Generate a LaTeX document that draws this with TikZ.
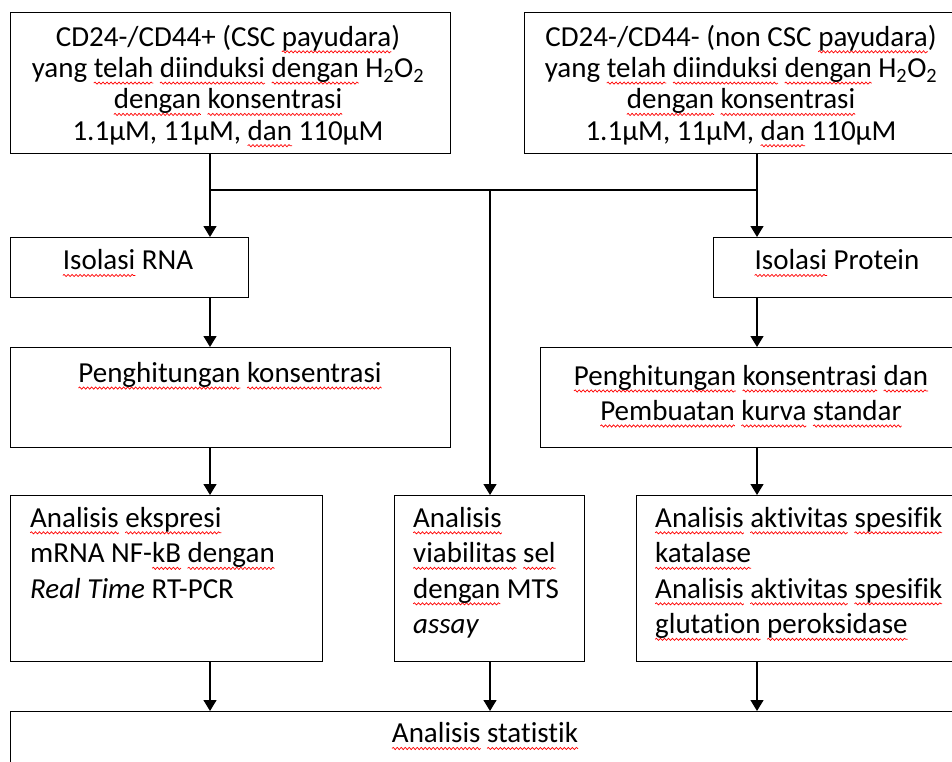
\documentclass[tikz,border=0pt]{standalone}
\usepackage{fontspec}
\setmainfont[Ligatures=NoCommon]{Carlito}
\usetikzlibrary{arrows.meta,decorations.pathmorphing}
\newlength\sqw
\newcommand\sq[1]{\settowidth\sqw{#1}\rlap{\tikz[overlay,baseline=0pt,x=1pt,y=1pt]\draw[red,line width=0.7pt,decorate,decoration={snake,segment length=4pt,amplitude=1.1pt}] (0pt,-5.5pt) -- (\sqw,-5.5pt);}#1}
\begin{document}
\begin{tikzpicture}[x=1pt,y=-1pt,
  box/.style={draw=black, line width=1.3pt, inner sep=0pt, anchor=north west},
  ln/.style={line width=1.3pt},
  arr/.style={line width=1.3pt, -{Triangle[width=13pt,length=11pt]}},
  txt/.style={inner sep=0pt, font=\fontsize{29}{31.3}\selectfont, align=center},
  txtl/.style={inner sep=0pt, font=\fontsize{29}{35.5}\selectfont, align=left, anchor=north west}]
\useasboundingbox (0,0) rectangle (952,762);
\clip (0,0) rectangle (952,762);

% boxes
\node[box, minimum width=440pt, minimum height=141pt] (topL) at (10,12) {};
\node[box, minimum width=434pt, minimum height=141pt] (topR) at (524,12) {};
\node[box, minimum width=238pt, minimum height=60pt] (rna) at (10,237) {};
\node[box, minimum width=440pt, minimum height=100pt] (konL) at (10,347) {};
\node[box, minimum width=245pt, minimum height=60pt] (prot) at (713,237) {};
\node[box, minimum width=418pt, minimum height=100pt] (konR) at (540,347) {};
\node[box, minimum width=312pt, minimum height=166pt] (ekspr) at (10,495) {};
\node[box, minimum width=190pt, minimum height=166pt] (viab) at (394,495) {};
\node[box, minimum width=322pt, minimum height=166pt] (enz) at (636,495) {};
\node[box, minimum width=948pt, minimum height=60pt] (stat) at (10,711) {};

% texts
\node[txt] (tTL) at (228,85) {CD24-/CD44+ (CSC \sq{payudara})\\
  yang \sq{telah} \sq{diinduksi} \sq{dengan} H\textsubscript{2}O\textsubscript{2}\\
  \sq{dengan} \sq{konsentrasi}\\
  1.1µM, 11µM, \sq{dan} 110µM};
\node[txt] (tTR) at (741,85) {CD24-/CD44- (non CSC \sq{payudara})\\
  yang \sq{telah} \sq{diinduksi} \sq{dengan} H\textsubscript{2}O\textsubscript{2}\\
  \sq{dengan} \sq{konsentrasi}\\
  1.1µM, 11µM, \sq{dan} 110µM};
\node[txt] (tRNA) at (128,260) {\sq{Isolasi} RNA};
\node[txt] (tProt) at (837,260) {\sq{Isolasi} Protein};
\node[txt] (tKonL) at (230,375) {\sq{Penghitungan} \sq{konsentrasi}};
\node[txt, font=\fontsize{29}{35}\selectfont] (tKonR) at (751,393) {\sq{Penghitungan} \sq{konsentrasi} \sq{dan}\\
  \sq{Pembuatan} \sq{kurva} \sq{standar}};
\node[txtl] (tEks) at (30,507) {\sq{Analisis} \sq{ekspresi}\\
  mRNA NF-\sq{kB} \sq{dengan}\\
  \textit{Real Time} RT-PCR};
\node[txtl] (tViab) at (413,507) {\sq{Analisis}\\
  \sq{viabilitas} \sq{sel}\\
  \sq{dengan} MTS\\
  \textit{assay}};
\node[txtl] (tEnz) at (655,507) {\sq{Analisis} \sq{aktivitas} \sq{spesifik}\\
  \sq{katalase}\\
  \sq{Analisis} \sq{aktivitas} \sq{spesifik}\\
  \sq{glutation} \sq{peroksidase}};
\node[txt] (tStat) at (485,733) {\sq{Analisis} \sq{statistik}};

% connectors
\coordinate (jL) at (210,190);
\coordinate (jM) at (490,190);
\coordinate (jR) at (757,190);
\draw[ln] (topL.south -| jL) -- (jL) -- (jR);
\draw[ln] (topR.south -| jR) -- (jR);
\draw[arr] (jL) -- (rna.north -| jL);
\draw[arr] (jR) -- (prot.north -| jR);
\draw[arr] (jM) -- (viab.north -| jM);
\draw[arr] (rna.south -| jL) -- (konL.north -| jL);
\draw[arr] (konL.south -| jL) -- (ekspr.north -| jL);
\draw[arr] (prot.south -| jR) -- (konR.north -| jR);
\draw[arr] (konR.south -| jR) -- (enz.north -| jR);
\draw[arr] (ekspr.south -| jL) -- (stat.north -| jL);
\draw[arr] (viab.south -| jM) -- (stat.north -| jM);
\draw[arr] (enz.south -| jR) -- (stat.north -| jR);
\end{tikzpicture}
\end{document}
